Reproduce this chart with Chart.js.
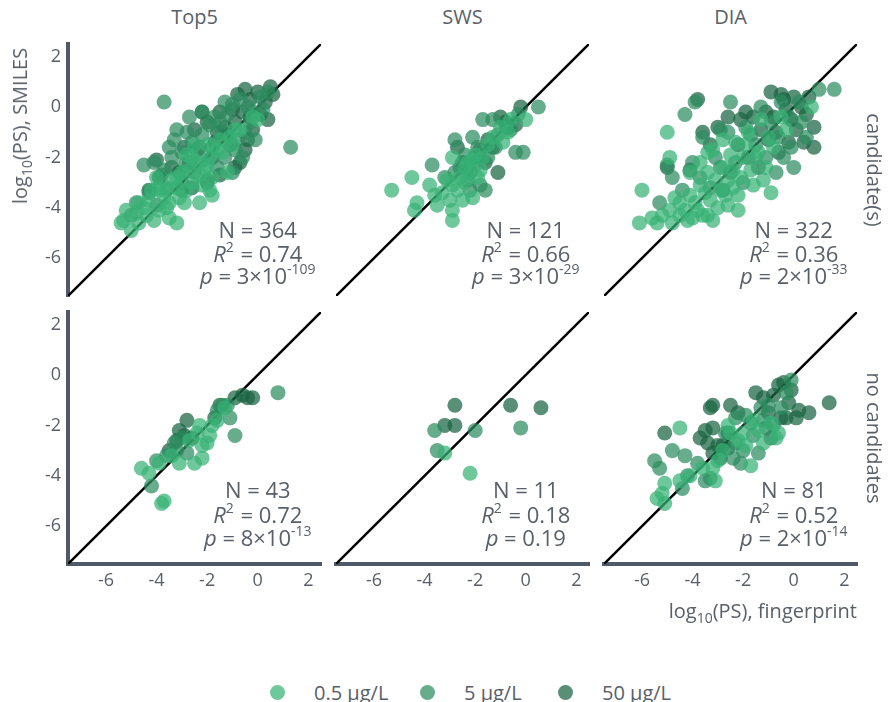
<!DOCTYPE html>
<html><head><meta charset="utf-8">
<script src="https://cdn.jsdelivr.net/npm/chart.js@4.4.1/dist/chart.umd.min.js"></script>
<style>
body{margin:0;background:#fff;}
#wrap{position:relative;width:888px;height:702px;overflow:hidden;font-family:'Open Sans',sans-serif;color:#596069;background:#fff;}
canvas{position:absolute;}
.lbl{position:absolute;white-space:nowrap;line-height:1;}
.sub{font-size:14px;position:relative;top:5px;}
.leg{position:absolute;top:680px;left:0;width:888px;height:24px;}
.li{position:absolute;top:0;display:flex;align-items:center;height:24px;font-size:20px;white-space:nowrap;}
.dot{width:15px;height:15px;border-radius:50%;margin-right:29px;}
</style></head><body><div id="wrap"></div>
<script>
// ---------- data ----------
const axisMin = -7.5, axisMax = 2.5;
const tickValues = [-6, -4, -2, 0, 2];
const panelTitles = ['Top5', 'SWS', 'DIA'];
const rowLabels = ['candidate(s)', 'no candidates'];
const seriesLabels = ['0.5 µg/L', '5 µg/L', '50 µg/L'];
const xTitle = 'fingerprint';
const yTitle = 'SMILES';

// stats per panel: Top5/SWS/DIA with candidates, then without
const statN = [364, 121, 322, 43, 11, 81];
const statR2 = ['0.74', '0.66', '0.36', '0.72', '0.18', '0.52'];
const statPMant = ['3', '3', '2', '8', '0.19', '2'];
const statPExp = ['-109', '-29', '-33', '-13', '', '-14'];

// Top5, candidate(s)
const top5C05 = [[-5.3,-4.5],[-5.0,-4.9],[-5.2,-4.1],[-4.7,-4.6],[-4.4,-4.3],[-4.1,-4.5],[-3.9,-4.1],[-3.5,-4.4],[-3.2,-4.6],[-3.7,-3.6],[-3.5,-3.8],[-3.1,-3.6],[-2.8,-3.3],[-3.2,-3.2],[-2.6,-3.0],[-2.3,-2.7],[-2.7,-2.5],[-2.4,-2.2],[-2.0,-2.3],[-1.9,-2.0],[-1.6,-1.7],[-1.5,-1.3],[-1.1,-1.2],[-0.9,-0.9],[-0.7,-0.9],[-0.2,-0.4],[0.0,-0.5],[-3.9,-3.2],[-4.0,-2.8],[-3.9,-3.3],[-3.6,-3.3],[-4.7,-3.8],[-4.3,-3.7],[-2.8,-1.9],[-2.5,-1.5],[-2.9,-3.8],[-2.3,-3.8],[-1.9,-3.3],[-1.8,-3.5],[-5.4,-4.6],[-3.2,-2.8],[-1.8,-2.8],[-2.2,-3.1],[-1.2,-2.6],[-3.4,-2.9],[-4.2,-3.3],[-4.8,-4.2],[-4.5,-4.0],[-3.0,-2.6],[-2.1,-2.5],[-1.4,-1.8],[-1.0,-1.5],[-2.6,-2.0],[-3.6,-4.0],[-2.0,-1.5]];
const top5C5 = [[-3.7,0.2],[1.3,-1.6],[-3.2,-0.9],[-3.3,-1.3],[-4.5,-2.3],[-4.1,-2.2],[-3.7,-2.5],[-1.7,-0.4],[-1.3,0.2],[-0.7,0.3],[-1.0,-2.6],[-4.8,-3.8],[-5.0,-4.3],[-3.4,-2.0],[-3.0,-1.8],[-2.6,-1.4],[-2.2,-1.1],[-1.9,-0.7],[-1.5,-0.6],[-0.4,0.0],[0.1,0.4],[0.4,0.6],[-0.3,-0.6],[-0.8,-1.3],[-2.9,-2.3],[-2.5,-2.6],[-2.2,-2.1],[-1.8,-1.6],[-1.6,-2.4],[-1.3,-2.0],[-0.9,-1.7],[-0.5,-1.0],[-0.2,-0.2],[-2.7,-0.4],[-2.2,-0.2],[-3.0,-3.0],[-3.6,-3.2],[-4.3,-3.4],[-1.0,0.1],[0.2,-0.1],[-1.4,-1.0],[-2.0,-2.9],[-0.6,-2.0],[-1.2,-0.3],[-3.8,-2.7],[-2.4,-1.7],[-4.0,-3.9],[-0.1,-1.3],[-3.5,-1.6],[-2.8,-1.0]];
const top5C50 = [[-2.5,-0.9],[-0.4,-1.3],[-0.7,-2.2],[0.5,0.8],[0.6,0.5],[0.3,0.2],[0.0,0.6],[-0.3,0.3],[-0.6,-0.2],[-0.9,-0.6],[-1.3,-0.8],[-1.6,-1.0],[-2.0,-0.6],[-1.1,-1.5],[-0.5,-1.7],[-0.2,-0.9],[0.1,-0.3],[-1.8,-2.0],[-2.3,-1.6],[-2.7,-2.2],[-3.1,-2.6],[-3.4,-2.4],[-2.0,-3.0],[-1.5,-2.7],[-0.9,-2.4],[-1.2,-1.1],[-0.8,0.5],[-2.2,-0.2],[-3.9,-2.8],[-4.3,-3.3],[-3.0,-3.3],[-0.5,0.7],[0.4,-0.5],[-1.5,-0.2],[-1.0,-0.1],[-2.6,-3.2],[-1.7,-1.4],[-0.3,-0.4],[-2.9,-1.6],[-4.0,-2.1]];

// SWS, candidate(s)
const swsC05 = [[-5.3,-3.3],[-4.5,-2.8],[-4.3,-3.8],[-4.4,-4.1],[-3.8,-3.1],[-3.5,-3.9],[-2.9,-4.1],[-2.9,-4.5],[-3.3,-3.4],[-2.9,-3.1],[-2.6,-2.8],[-2.3,-2.2],[-2.1,-2.1],[-1.9,-2.8],[-2.1,-3.6],[-2.5,-3.7],[-1.5,-1.5],[-1.3,-1.2],[-0.7,-1.0],[-0.6,-0.5],[0.0,-0.5],[-2.9,-2.0],[-1.8,-2.5],[-3.1,-2.9],[-2.4,-2.4],[-2.2,-2.6],[-2.7,-3.3],[-2.0,-1.9],[-1.0,-0.8],[-3.6,-3.5],[-2.4,-3.0],[-1.7,-2.0],[-0.9,-1.4],[-3.0,-3.7]];
const swsC5 = [[-3.7,-2.3],[-2.8,-1.3],[-2.1,-1.2],[-1.7,-0.5],[-1.3,-0.5],[0.5,0.0],[-0.4,-1.8],[-0.1,-1.8],[-1.8,-3.1],[-1.6,-3.3],[-2.6,-2.4],[-2.3,-2.9],[-2.0,-2.3],[-1.5,-2.0],[-1.1,-1.1],[-0.8,-0.7],[-0.3,-0.3],[-2.8,-2.6],[-2.4,-1.9],[-1.9,-1.6],[-1.2,-1.6],[-3.2,-2.8],[-2.2,-3.3],[-0.6,-0.9]];
const swsC50 = [[-1.1,-2.6],[-0.8,-0.6],[-0.7,-0.8],[-1.3,-1.6],[-1.8,-1.7],[-2.2,-2.6],[-2.5,-2.2],[-1.5,-1.3],[-1.0,-0.4],[-0.4,-0.7],[-2.0,-2.0],[-1.6,-2.2],[-0.2,0.0],[-2.7,-1.6]];

// DIA, candidate(s)
const diaC05 = [[-6.0,-3.3],[-6.1,-4.6],[-5.4,-4.6],[-5.0,-1.0],[-4.9,-2.0],[-4.9,-4.1],[-4.5,-4.3],[-4.2,-4.5],[-3.8,-4.1],[-3.4,-4.3],[-3.2,-4.5],[-4.1,-3.5],[-3.7,-3.1],[-3.4,-2.6],[-3.7,-2.2],[-2.9,-3.3],[-2.6,-2.9],[-2.4,-2.5],[-3.2,-1.7],[-2.8,-1.3],[-2.3,-1.4],[-2.0,-2.0],[-1.7,-2.5],[-1.1,-2.4],[-0.9,-3.4],[-1.3,-0.5],[-0.5,-0.4],[0.7,0.0],[-1.6,-3.1],[-2.2,-3.5],[-3.3,-3.7],[-2.6,-3.9],[-4.5,-3.8],[-4.1,-2.6],[-5.2,-4.3],[-4.7,-3.6],[-3.0,-4.0],[-2.1,-2.8],[-1.4,-1.8],[-3.9,-3.8],[-4.3,-4.1],[-3.6,-4.3],[-2.8,-2.4],[-3.1,-2.9],[-2.5,-1.9],[-1.9,-1.5],[-0.8,-1.6],[-1.0,-1.2],[-3.5,-3.4],[-2.2,-4.1],[-1.5,-2.0],[-4.8,-4.6],[-4.0,-4.4],[-2.7,-3.5],[-0.3,-0.9],[-1.8,-1.0],[-3.4,-1.8],[-5.6,-4.4],[-2.4,-3.2],[-1.2,-2.9]];
const diaC5 = [[-4.3,-0.3],[-3.9,0.2],[-2.5,0.2],[1.0,0.7],[1.6,0.7],[-5.0,-2.3],[-4.8,-2.8],[-3.6,-1.2],[-2.9,-0.9],[-1.3,0.0],[0.0,-2.4],[-0.6,-1.2],[0.5,-1.2],[-0.4,-2.0],[-2.9,-2.4],[-1.9,-0.8],[-1.5,-1.5],[-2.3,-2.2],[-0.9,-0.6],[-0.2,-0.4],[0.3,-0.6],[-3.1,-2.0],[-2.0,-3.0],[-1.1,-2.0],[-4.4,-3.3],[-3.7,-2.8],[-0.5,0.2],[0.2,0.2],[-1.7,-1.1],[-2.6,-1.0],[-0.7,-2.6],[-3.3,-3.2],[-0.1,-1.6],[-5.3,-3.8],[-4.0,-2.2]];
const diaC50 = [[-3.8,0.3],[-0.4,0.3],[0.8,-0.8],[0.8,-1.6],[-0.8,-0.4],[-0.1,-0.5],[0.1,-0.9],[-1.6,-0.4],[-3.0,-0.8],[-3.3,-1.5],[-5.0,-2.4],[-2.6,-0.4],[-1.0,-1.3],[-0.2,-1.4],[-0.5,0.5],[0.3,0.0],[0.5,-0.3],[-1.3,-0.9],[-2.1,-0.5],[-0.7,-1.0],[-0.3,-0.1],[0.0,0.4],[-1.8,-2.0],[-2.5,-2.6],[-1.1,-0.2],[-0.9,0.6],[0.4,-1.4],[-2.2,-1.5],[-4.1,-2.5],[-3.6,-1.0],[-1.4,-2.4],[-0.6,-1.8],[-2.8,-3.3],[-1.9,-0.2],[0.6,0.4]];

// Top5, no candidates
const top5N05 = [[-4.6,-3.7],[-4.3,-3.9],[-3.9,-3.5],[-3.7,-5.0],[-3.8,-5.1],[-3.1,-3.5],[-2.5,-3.5],[-2.2,-3.3],[-2.0,-2.7],[-2.2,-2.8],[-2.3,-2.0],[-2.4,-2.3],[-1.8,-2.0],[-1.6,-1.8],[-1.3,-1.3],[-3.4,-3.2],[-2.7,-2.6],[-1.9,-2.4]];
const top5N5 = [[0.8,-0.7],[-1.4,-1.2],[-1.1,-1.7],[-0.9,-2.4],[-3.3,-2.7],[-3.6,-3.2],[-4.2,-4.4],[-3.0,-2.5],[-1.6,-1.4],[-2.8,-3.1],[-4.0,-3.4],[-3.2,-3.0],[-1.2,-1.2]];
const top5N50 = [[-0.6,-0.8],[-0.2,-0.9],[-0.4,-0.9],[-1.7,-1.7],[-2.8,-1.8],[-3.1,-2.2],[-2.9,-2.4],[-2.6,-2.5],[-3.2,-2.6],[-0.9,-0.9],[-3.5,-3.0],[-1.5,-1.2]];

// SWS, no candidates
const swsN05 = [[-3.2,-3.1],[-2.2,-3.9]];
const swsN5 = [[-3.6,-2.2],[-3.5,-3.0],[-2.0,-2.2],[-0.2,-2.1]];
const swsN50 = [[-2.8,-1.2],[-3.2,-2.0],[-2.8,-2.0],[-0.6,-1.2],[0.6,-1.3]];

// DIA, no candidates
const diaN05 = [[-4.5,-2.1],[-5.1,-4.3],[-5.4,-4.9],[-5.1,-5.1],[-4.5,-4.2],[-3.1,-4.2],[-3.6,-3.7],[-3.2,-3.7],[-2.5,-2.3],[-2.6,-2.0],[-2.0,-2.3],[-1.7,-3.6],[-0.7,-2.5],[-0.6,-2.3],[-1.9,-2.8],[-2.2,-2.6],[-3.0,-3.4],[-1.4,-2.2],[-4.1,-4.0],[-0.9,-1.9],[-2.8,-3.0],[-1.2,-2.7],[-5.2,-4.7],[-1.6,-1.8]];
const diaN5 = [[-5.5,-3.4],[-5.3,-3.7],[-4.3,-3.2],[-4.2,-4.0],[-4.4,-4.5],[-3.5,-4.2],[-3.3,-4.1],[-2.3,-2.7],[-2.3,-1.7],[-1.9,-1.6],[-1.7,-1.9],[-2.1,-3.5],[-2.4,-3.3],[-1.3,-1.3],[-1.2,-1.8],[-1.1,-2.1],[-0.8,-2.0],[-0.1,-0.2],[-0.3,-0.7],[-1.6,-2.4],[-1.4,-3.1],[-2.0,-3.0],[-3.8,-3.5],[-0.5,-1.3],[-2.7,-2.3],[-4.8,-3.0],[-1.0,-1.2]];
const diaN50 = [[-5.1,-2.3],[-3.3,-1.3],[-3.2,-1.2],[-3.2,-2.1],[-3.7,-2.5],[-3.4,-2.7],[-3.2,-3.1],[-3.0,-2.8],[-2.8,-2.8],[-1.5,-0.7],[-0.6,-0.4],[-0.2,-1.1],[-0.5,-1.7],[-0.3,-1.7],[0.1,-1.7],[0.6,-1.5],[1.4,-1.1],[-0.8,-0.8],[-2.9,-3.3],[-2.6,-2.9],[-1.0,-1.5],[-0.4,-0.3],[-3.5,-2.2],[-2.5,-1.2],[-2.2,-1.5],[-1.2,-0.9],[0.2,-1.4],[-0.9,-2.5],[-2.6,-2.3],[-0.1,-0.6]];

// ---------- styling / layout ----------
const FONT = "'Open Sans', sans-serif";
const TEXT = '#596069';
const AXIS = '#4e5a68';
const COLORS = ['rgba(55,178,118,0.72)', 'rgba(45,140,95,0.72)', 'rgba(25,100,65,0.72)'];
const colLeft = [68, 336, 604], rowTop = [44, 312], PW = 253, PH = 252;
const statOffsets = [[64, 40, 18], [72, 47, 24]];

const panels = [
  {col:0,row:0,d:[top5C05,top5C5,top5C50]},
  {col:1,row:0,d:[swsC05,swsC5,swsC50]},
  {col:2,row:0,d:[diaC05,diaC5,diaC50]},
  {col:0,row:1,d:[top5N05,top5N5,top5N50]},
  {col:1,row:1,d:[swsN05,swsN5,swsN50]},
  {col:2,row:1,d:[diaN05,diaN5,diaN50]}
];

const wrap = document.getElementById('wrap');

const statsPlugin = {
  id: 'stats',
  afterDatasetsDraw(chart, args, o) {
    const {ctx, chartArea: a, scales: {x}} = chart;
    const cx = x.getPixelForValue(0);
    const fontFor = s => (s.it ? 'italic ' : '') + (s.sup ? '14px ' : '22px ') + FONT;
    ctx.save();
    ctx.fillStyle = TEXT;
    ctx.textBaseline = 'middle';
    ctx.textAlign = 'left';
    o.lines.forEach((segs, li) => {
      const y = a.bottom - o.offsets[li];
      let total = 0;
      segs.forEach(s => { ctx.font = fontFor(s); s.w = ctx.measureText(s.t).width + (s.gap || 0); total += s.w; });
      let xx = cx - total / 2;
      segs.forEach(s => { ctx.font = fontFor(s); ctx.fillText(s.t, xx, s.sup ? y - 8 : y); xx += s.w; });
    });
    ctx.restore();
  }
};

panels.forEach((p, i) => {
  const yw = p.col === 0 ? 60 : 6, xh = p.row === 1 ? 36 : 6, pad = 6;
  const W = yw + PW + pad, H = pad + PH + xh;
  const cv = document.createElement('canvas');
  cv.width = W; cv.height = H;
  cv.style.left = (colLeft[p.col] - yw) + 'px';
  cv.style.top = (rowTop[p.row] - pad) + 'px';
  cv.style.width = W + 'px'; cv.style.height = H + 'px';
  wrap.appendChild(cv);

  const pLine = [{t:'p', it:true}, {t:' = ' + statPMant[i] + (statPExp[i] ? '×10' : '')}];
  if (statPExp[i]) pLine.push({t: statPExp[i], sup:true});

  const datasets = [
    {type:'line', data:[[axisMin, axisMin],[axisMax, axisMax]], borderColor:'#000', borderWidth:2.5, pointRadius:0, fill:false, order:10}
  ];
  p.d.forEach((arr, k) => datasets.push({
    type:'scatter', label: seriesLabels[k], data: arr,
    backgroundColor: COLORS[k], borderColor: COLORS[k], borderWidth: 0,
    pointRadius: 7.5, order: k + 1
  }));

  const fixPad = s => { s.paddingTop = 0; s.paddingBottom = 0; s.paddingLeft = 0; s.paddingRight = 0; };

  new Chart(cv, {
    data: {datasets},
    options: {
      responsive: false, animation: false, events: [],
      layout: {autoPadding: false, padding: {top: pad, right: pad, left: 0, bottom: 0}},
      plugins: {
        legend: {display: false}, tooltip: {enabled: false},
        stats: {
          offsets: statOffsets[p.row],
          lines: [
            [{t: 'N = ' + statN[i]}],
            [{t:'R', it:true}, {t:'2', sup:true, gap:1}, {t:' = ' + statR2[i]}],
            pLine
          ]
        }
      },
      scales: {
        x: {
          type: 'linear', min: axisMin, max: axisMax,
          afterBuildTicks: s => { s.ticks = tickValues.map(v => ({value: v})); },
          afterFit: s => { s.height = xh; fixPad(s); },
          grid: {display: false, drawTicks: false},
          border: {display: p.row === 1, color: AXIS, width: 4},
          ticks: {display: p.row === 1, color: TEXT, font: {family: FONT, size: 18}, padding: 6, maxRotation: 0, autoSkip: false}
        },
        y: {
          type: 'linear', min: axisMin, max: axisMax,
          afterBuildTicks: s => { s.ticks = tickValues.map(v => ({value: v})); },
          afterFit: s => { s.width = yw; fixPad(s); },
          grid: {display: false, drawTicks: false},
          border: {display: p.col === 0, color: AXIS, width: 4},
          ticks: {display: p.col === 0, color: TEXT, font: {family: FONT, size: 18}, padding: 7, autoSkip: false}
        }
      }
    },
    plugins: [statsPlugin]
  });
});

// ---------- text labels ----------
function addLabel(html, cx, cy, size, rot) {
  const d = document.createElement('div');
  d.className = 'lbl';
  d.innerHTML = html;
  d.style.fontSize = size + 'px';
  d.style.left = cx + 'px';
  d.style.top = cy + 'px';
  d.style.transform = 'translate(-50%,-50%)' + (rot ? ' rotate(' + rot + 'deg)' : '');
  wrap.appendChild(d);
  return d;
}
panelTitles.forEach((t, c) => addLabel(t, colLeft[c] + PW / 2, 17, 20, 0));
rowLabels.forEach((t, r) => addLabel(t, 874, rowTop[r] + PH / 2, 20, 90));
addLabel('log<span class="sub">10</span>(PS), ' + yTitle, 20, 126, 20, -90);
const xt = document.createElement('div');
xt.className = 'lbl';
xt.style.fontSize = '20px';
xt.style.right = (888 - 857) + 'px';
xt.style.top = '601px';
xt.innerHTML = 'log<span class="sub">10</span>(PS), ' + xTitle;
wrap.appendChild(xt);

// legend
const leg = document.createElement('div');
leg.className = 'leg';
const legLeft = [270, 420, 558];
seriesLabels.forEach((t, k) => {
  const it = document.createElement('div');
  it.className = 'li';
  it.style.left = legLeft[k] + 'px';
  it.innerHTML = '<span class="dot" style="background:' + COLORS[k] + '"></span><span>' + t + '</span>';
  leg.appendChild(it);
});
wrap.appendChild(leg);
</script>
</body></html>
